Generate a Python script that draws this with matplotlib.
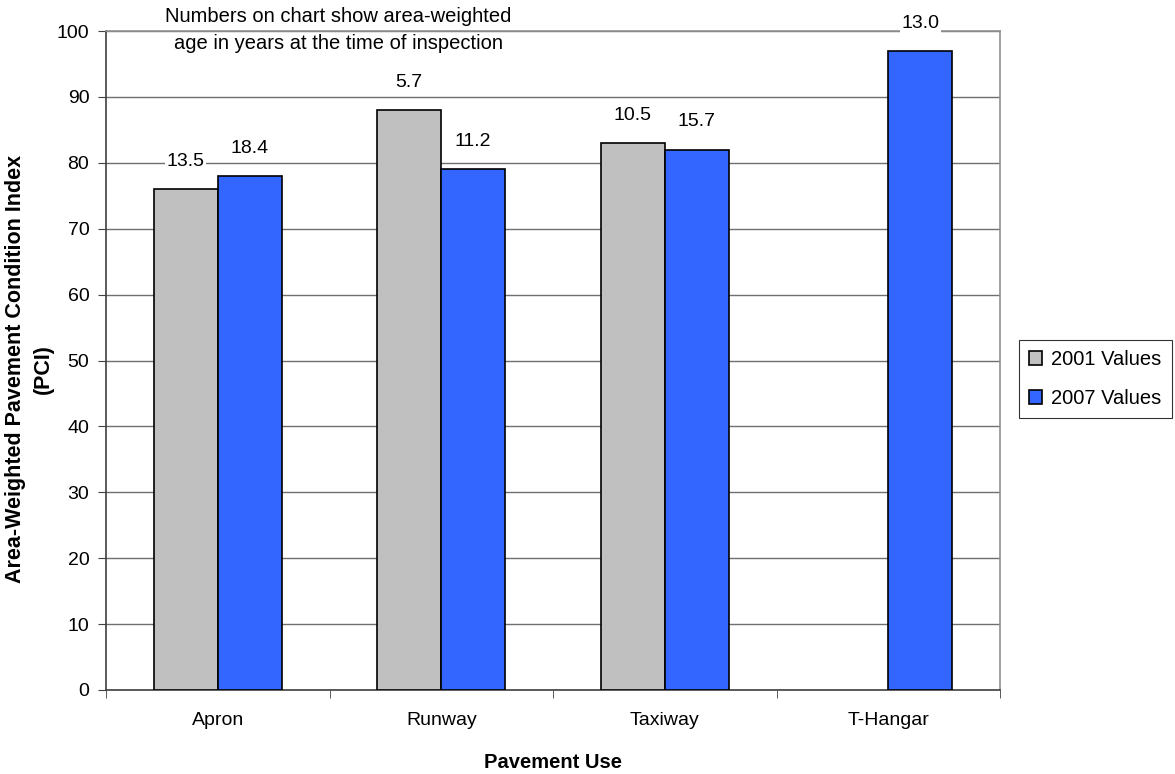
import numpy as np
import matplotlib.pyplot as plt
from matplotlib.ticker import FixedLocator

categories = ['Apron', 'Runway', 'Taxiway', 'T-Hangar']
pci_2001 = [76, 88, 83, np.nan]
pci_2007 = [78, 79, 82, 97]
age_2001 = ['13.5', '5.7', '10.5', None]
age_2007 = ['18.4', '11.2', '15.7', '13.0']

plt.rcParams['font.family'] = ['Liberation Sans', 'DejaVu Sans']

fig = plt.figure(figsize=(11.75, 7.74), dpi=100)
ax = fig.add_axes([106 / 1175, 1 - 690 / 774, 894 / 1175, 659 / 774])

x = np.arange(len(categories))
w = 0.286
ax.bar(x - w / 2, pci_2001, w, color='#c0c0c0', edgecolor='black', linewidth=1.2,
       label='2001 Values', zorder=3)
ax.bar(x + w / 2, pci_2007, w, color='#3366ff', edgecolor='black', linewidth=1.2,
       label='2007 Values', zorder=3)

# age labels sit just above each bar, white box cuts the gridline
box = dict(facecolor='white', edgecolor='none', pad=1.0)
for i in range(len(categories)):
    if age_2001[i] is not None:
        ax.text(x[i] - w / 2, pci_2001[i] + 4.2, age_2001[i], ha='center', va='center',
                fontsize=14, bbox=box, zorder=4)
    if age_2007[i] is not None:
        ax.text(x[i] + w / 2, pci_2007[i] + 4.2, age_2007[i], ha='center', va='center',
                fontsize=14, bbox=box, zorder=4)

ax.set_xlim(-0.5, 3.5)
ax.set_ylim(0, 100)
ax.set_yticks(range(0, 101, 10))
ax.set_xticks(x)
ax.set_xticklabels(categories, fontsize=14)
ax.xaxis.set_minor_locator(FixedLocator(np.arange(-0.5, 3.6, 1.0)))
ax.tick_params(axis='x', which='major', length=0, pad=16)
ax.tick_params(axis='x', which='minor', length=6, direction='out', color='#404040')
ax.tick_params(axis='y', length=6, direction='out', labelsize=14, color='#404040', pad=6)
ax.grid(axis='y', color='#707070', linewidth=1.0, zorder=0)

for side in ['left', 'bottom']:
    ax.spines[side].set_color('#404040')
    ax.spines[side].set_linewidth(1.2)
for side in ['top', 'right']:
    ax.spines[side].set_color('#909090')
    ax.spines[side].set_linewidth(1.2)

ax.set_ylabel('Area-Weighted Pavement Condition Index\n(PCI)', fontsize=15.5,
              fontweight='bold', linespacing=1.45)
ax.yaxis.set_label_coords(-0.058, 0.487)
ax.set_xlabel('Pavement Use', fontsize=14.5, fontweight='bold')
ax.xaxis.set_label_coords(0.5, -0.096)

fig.text(338 / 1175, 1 - 30 / 774,
         'Numbers on chart show area-weighted\nage in years at the time of inspection',
         ha='center', va='center', fontsize=14.5, linespacing=1.5)

leg = ax.legend(loc='upper left', bbox_to_anchor=(1019 / 1175, 1 - 340 / 774),
                bbox_transform=fig.transFigure, fontsize=14.5,
                frameon=True, fancybox=False, edgecolor='black', handlelength=0.65,
                handleheight=0.65, handletextpad=0.45, borderpad=0.5, labelspacing=1.0,
                borderaxespad=0)
leg.get_frame().set_linewidth(0.8)

fig.savefig('out.png', dpi=100)
